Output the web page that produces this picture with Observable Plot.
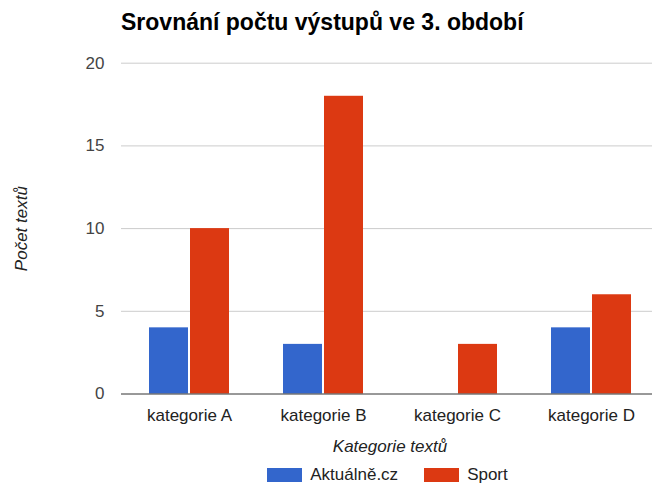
<!DOCTYPE html>
<html>
<head>
<meta charset="utf-8">
<script src="https://cdn.jsdelivr.net/npm/d3@7"></script>
<script src="https://cdn.jsdelivr.net/npm/@observablehq/plot@0.6"></script>
<style>
  html, body { margin: 0; padding: 0; background: #fff; }
  #wrap { position: relative; width: 652px; height: 485px; font-family: "Liberation Sans", Arial, sans-serif; }
  #title { position: absolute; left: 121px; top: 11px; font-size: 23px; font-weight: bold; line-height: 23px; color: #000; white-space: nowrap; }
  #chart { position: absolute; left: 0; top: 48px; }
  #legend { position: absolute; left: 122px; top: 466px; width: 531px; display: flex; justify-content: center; align-items: center; font-size: 17px; color: #222; line-height: 17px; }
  .item { display: flex; align-items: center; margin: 0 13px; }
  .sw { width: 35px; height: 14px; margin-right: 8px; }
</style>
</head>
<body>
<div id="wrap">
  <div id="title"></div>
  <div id="chart"></div>
  <div id="legend"></div>
</div>
<script>
const titleText = "Srovnání počtu výstupů ve 3. období";
const categories = ["kategorie A", "kategorie B", "kategorie C", "kategorie D"];
const seriesNames = ["Aktuálně.cz", "Sport"];
const aktualne = [4, 3, 0, 4];
const sport = [10, 18, 3, 6];
const yTicks = [0, 5, 10, 15, 20];
const colors = ["#3366cc", "#dc3912"];
const xLabel = "Kategorie textů";
const yLabel = "Počet textů";

document.getElementById("title").textContent = titleText;

const dataA = categories.map((c, i) => ({category: c, series: seriesNames[0], value: aktualne[i]}));
const dataS = categories.map((c, i) => ({category: c, series: seriesNames[1], value: sport[i]}));

const chart = Plot.plot({
  width: 652,
  height: 412,
  marginTop: 14.7,
  marginBottom: 66.5,
  marginLeft: 121,
  marginRight: 0,
  style: {fontFamily: '"Liberation Sans", Arial, sans-serif', fontSize: "17px", background: "transparent"},
  x: {domain: categories, range: [121, 660], paddingInner: 0.4, paddingOuter: 0.2},
  y: {domain: [0, 20]},
  marks: [
    Plot.ruleY(yTicks.filter(d => d > 0), {stroke: "#cccccc", strokeWidth: 1}),
    Plot.barY(dataA, {x: "category", y: "value", fill: colors[0], insetLeft: 0, insetRight: 41}),
    Plot.barY(dataS, {x: "category", y: "value", fill: colors[1], insetLeft: 41, insetRight: 0}),
    Plot.ruleY([0], {stroke: "#333333", strokeWidth: 1}),
    Plot.axisX({tickSize: 0, tickPadding: 15, fill: "#222", label: xLabel, labelAnchor: "center", labelOffset: 58, labelArrow: "none"}),
    Plot.axisY({ticks: yTicks, tickSize: 0, tickPadding: 17, fill: "#444", label: yLabel, labelAnchor: "center", labelOffset: 107, labelArrow: "none"})
  ]
});
chart.querySelectorAll('g[aria-label$="axis label"] text').forEach(t => {
  t.textContent = t.textContent.replace(/\s*[↑↓←→]\s*/g, "");
  t.setAttribute("font-style", "italic");
  t.setAttribute("fill", "#222");
});
chart.querySelectorAll('g[aria-label="x-axis label"] text').forEach(t => {
  t.setAttribute("dx", "3");
});
document.getElementById("chart").appendChild(chart);

const legend = document.getElementById("legend");
seriesNames.forEach((name, i) => {
  const item = document.createElement("div");
  item.className = "item";
  const sw = document.createElement("div");
  sw.className = "sw";
  sw.style.background = colors[i];
  const lab = document.createElement("span");
  lab.textContent = name;
  item.appendChild(sw);
  item.appendChild(lab);
  legend.appendChild(item);
});
</script>
</body>
</html>
